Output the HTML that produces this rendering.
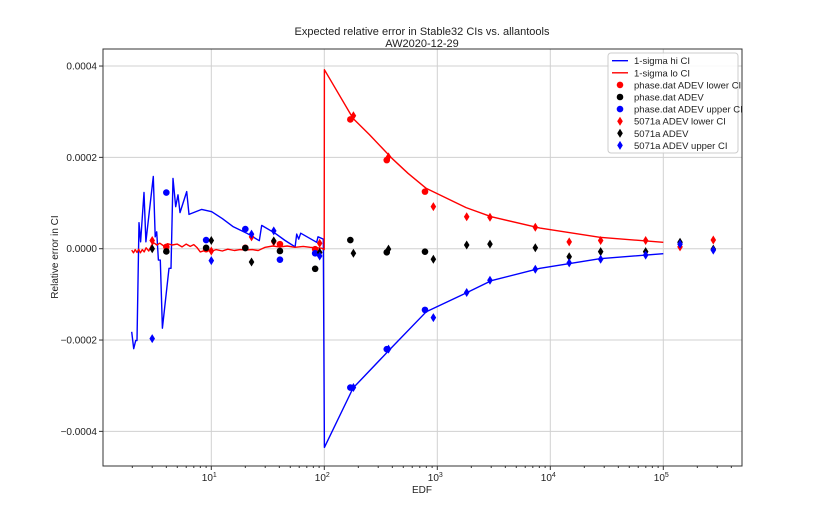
<!DOCTYPE html>
<html><head><meta charset="utf-8"><style>
body{margin:0;background:#fff;}
svg text{font-family:"Liberation Sans","DejaVu Sans",sans-serif;fill:#222;}
</style></head><body>
<svg id="chart" width="825" height="510" xmlns="http://www.w3.org/2000/svg">
<text x="422" y="35" font-size="11" text-anchor="middle">Expected relative error in Stable32 CIs vs. allantools</text>
<text x="422" y="47" font-size="11" text-anchor="middle">AW2020-12-29</text>
<text x="422" y="493" font-size="10" text-anchor="middle">EDF</text>
<text x="58" y="257" font-size="10" text-anchor="middle" transform="rotate(-90 58 257)">Relative error in CI</text>
<g id="grid"></g>
<g id="series"></g>
<rect x="103" y="49" width="639" height="417" fill="none" stroke="#333" stroke-width="1"/>
<g id="ticks"></g>
<g id="legend"></g>
</svg>
<script>
const xTickExp=[1,2,3,4,5];
const yTicks=[0.0004,0.0002,0,-0.0002,-0.0004];
const yTickLabels=["0.0004","0.0002","0.0000","\u22120.0002","\u22120.0004"];
const hiEdf=[1.975,2.058,2.143,2.2,2.29,2.37,2.54,2.64,3.07,3.19,3.29,3.40,3.54,3.69,4.22,4.40,4.58,4.84,5.07,5.28,6.06,6.35,8.22,10.08,12.5,15.66,20.6,26.6,27.9,36.6,45,55.1,57,59.4,61.8,85.7,87.9,98,100.3,180,400,800,1800,3000,8100,27500,100000];
const hiVal=[-1.82e-4,-2.19e-4,-2.01e-4,-2.01e-4,5.7e-5,1.5e-5,1.23e-4,1.5e-5,1.58e-4,2.6e-5,3.7e-5,-2.5e-5,-2.5e-5,-1.74e-4,-4.3e-5,-4.3e-5,1.54e-4,9.2e-5,1.18e-4,7.9e-5,1.25e-4,7.5e-5,8.6e-5,8.1e-5,6.6e-5,4.8e-5,3.4e-5,1.75e-5,5.1e-5,3.4e-5,1.8e-5,4e-6,3.2e-5,2.1e-5,3.4e-5,1.4e-5,2.6e-5,2.1e-5,-4.35e-4,-3.05e-4,-2.15e-4,-1.38e-4,-9.7e-5,-7e-5,-4.3e-5,-2.2e-5,-1.1e-5];
const loEdf=[1.975,2.05,2.12,2.2,2.28,2.36,2.45,2.55,2.65,2.8,2.95,3.1,3.3,3.5,3.8,4.1,4.5,5,5.5,6,6.5,7,7.5,8,9,10,11,12.5,14,16,18,20,23,26,30,35,40,47,55,65,75,85,95,99.7,100.3,180,250,400,550,800,1800,3000,8100,27500,100000];
const loVal=[-3e-6,-9e-6,-2e-6,-8e-6,-1e-6,-9e-6,-2e-6,-7e-6,2e-6,-5e-6,7e-6,1.3e-5,8e-6,1.2e-5,6e-6,1.1e-5,8e-6,1e-5,4e-6,1e-5,5e-6,9e-6,2e-6,-7e-6,-3e-6,-6e-6,-2e-6,-5e-6,-1e-6,-4e-6,-2e-6,-3e-6,-2e-6,-4e-6,3e-6,6e-6,4e-6,6e-6,3e-6,5e-6,3e-6,2e-6,1e-6,-2e-6,3.92e-4,2.85e-4,2.5e-4,1.97e-4,1.65e-4,1.32e-4,9e-5,7e-5,4.5e-5,2.5e-5,1.4e-5];
const circEdf=[4,9,20,40.5,83,170,357,778];
const circLo=[4e-6,-1e-6,2e-6,1e-5,-1e-6,2.83e-4,1.94e-4,1.25e-4];
const circMid=[-6e-6,2e-6,1.5e-6,-5e-6,-4.4e-5,1.9e-5,-8e-6,-6.5e-6];
const circHi=[1.23e-4,1.9e-5,4.3e-5,-2.4e-5,-1e-5,-3.04e-4,-2.2e-4,-1.34e-4];
const diaEdf=[3,10,22.7,35.7,91,181,370,923,1820,2925,7370,14700,27900,69800,140600,277000];
const diaLo=[1.8e-5,-5e-6,2.6e-5,1.5e-5,1.2e-5,2.91e-4,2.01e-4,9.2e-5,7e-5,6.9e-5,4.7e-5,1.5e-5,1.8e-5,1.8e-5,4e-6,1.9e-5];
const diaMid=[0,1.8e-5,-2.9e-5,1.7e-5,-8e-6,-1e-5,-1e-6,-2.3e-5,8e-6,1e-5,2e-6,-1.75e-5,-6.5e-6,-6.5e-6,1.4e-5,-1e-6];
const diaHi=[-1.97e-4,-2.6e-5,3.2e-5,3.9e-5,-1.6e-5,-3.04e-4,-2.2e-4,-1.51e-4,-9.6e-5,-6.9e-5,-4.5e-5,-3.1e-5,-2.3e-5,-1.4e-5,1e-5,-3e-6];
const legendLabels=["1-sigma hi CI","1-sigma lo CI","phase.dat ADEV lower CI","phase.dat ADEV","phase.dat ADEV upper CI","5071a ADEV lower CI","5071a ADEV","5071a ADEV upper CI"];

const NS="http://www.w3.org/2000/svg";
const L=103,R=742,T=49,B=466;
function xs(e){return 98.3+113*Math.log10(e);}
function ys(v){return 248.7-v*456.6*1000/1000*1000/1000*1000;} 
function yv(v){return 248.7-v*456675;}
function mk(tag,attrs,parent){const el=document.createElementNS(NS,tag);for(const k in attrs)el.setAttribute(k,attrs[k]);parent.appendChild(el);return el;}
const grid=document.getElementById('grid'),ticks=document.getElementById('ticks'),ser=document.getElementById('series'),leg=document.getElementById('legend');
xTickExp.forEach(p=>{const x=xs(Math.pow(10,p));
 const g=mk('line',{x1:x,x2:x,y1:T,y2:B,stroke:'#d0d0d0','stroke-width':1},grid);
 
 
 const t=mk('line',{x1:x,x2:x,y1:B,y2:B+4,stroke:'#333'},ticks);
 
 
 const tx=mk('text',{x:x-2,y:B+15,'font-size':10,'text-anchor':'middle'},ticks);
 
 
 tx.textContent='10';
 const sp=mk('tspan',{dy:-4,'font-size':7},tx);sp.textContent=String(p);
});
for(let p=0;p<6;p++)for(let m=2;m<10;m++){const e=m*Math.pow(10,p);const x=xs(e);if(x<L||x>R)continue;
 const t=mk('line',{x1:x,x2:x,y1:B,y2:B+2,stroke:'#333'},ticks);
 
 }
yTicks.forEach((v,i)=>{const y=yv(v);
 const g=mk('line',{x1:L,x2:R,y1:y,y2:y,stroke:'#d0d0d0','stroke-width':1},grid);
 
 
 const t=mk('line',{x1:L-4,x2:L,y1:y,y2:y,stroke:'#333'},ticks);
 
 
 const tx=mk('text',{x:L-6,y:y+3.5,'font-size':10,'text-anchor':'end'},ticks);
 
 
 tx.textContent=yTickLabels[i];
});
function line(ed,vals,color,name){const d=ed.map((e,i)=>(i?'L':'M')+xs(e).toFixed(1)+','+yv(vals[i]).toFixed(1)).join('');
 const p=mk('path',{d:d,fill:'none',stroke:color,'stroke-width':1.4,'stroke-linejoin':'round'},ser);
 
 }
line(hiEdf,hiVal,'#0000ff','hi-ci-line');
line(loEdf,loVal,'#ff0000','lo-ci-line');
function circles(ed,vals,color,name){ed.forEach((e,i)=>{const c=mk('circle',{cx:xs(e),cy:yv(vals[i]),r:3.3,fill:color},ser);
 
 });}
function diamond(x,y,color,parent){return mk('path',{d:`M${x},${y-4.5}L${x+2.8},${y}L${x},${y+4.5}L${x-2.8},${y}Z`,fill:color},parent);}
function diamonds(ed,vals,color,name){ed.forEach((e,i)=>{const d=diamond(xs(e),yv(vals[i]),color,ser);
 
 });}
circles(circEdf,circLo,'#ff0000','phase-lower-point');
circles(circEdf,circMid,'#000000','phase-adev-point');
circles(circEdf,circHi,'#0000ff','phase-upper-point');
diamonds(diaEdf,diaLo,'#ff0000','5071a-lower-point');
diamonds(diaEdf,diaMid,'#000000','5071a-adev-point');
diamonds(diaEdf,diaHi,'#0000ff','5071a-upper-point');
const box=mk('rect',{x:608,y:53,width:130,height:100,rx:3,fill:'#fff','fill-opacity':0.85,stroke:'#ccc'},leg);


const colors=['#0000ff','#ff0000','#ff0000','#000000','#0000ff','#ff0000','#000000','#0000ff'];
legendLabels.forEach((lab,i)=>{const y=60.7+12.1*i;
 const g=mk('g',{},leg);
 
 
 if(i<2)mk('line',{x1:612,x2:628,y1:y,y2:y,stroke:colors[i],'stroke-width':1.4},g);
 else if(i<5)mk('circle',{cx:620,cy:y,r:3.3,fill:colors[i]},g);
 else diamond(620,y,colors[i],g);
 const t=mk('text',{x:634,y:y+3.5,'font-size':9.5},g);t.textContent=lab;});
</script>
</body></html>
